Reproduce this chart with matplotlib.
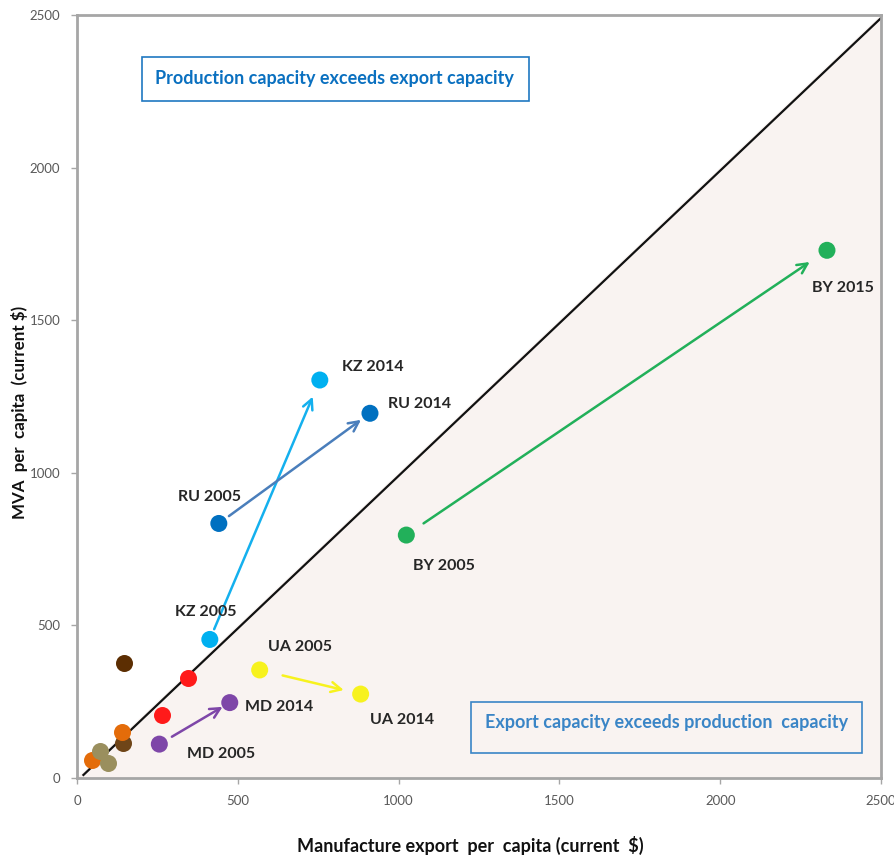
import matplotlib
matplotlib.use("Agg")
import matplotlib.pyplot as plt
from matplotlib.patches import Rectangle

plt.rcParams['font.family'] = ['Lato', 'DejaVu Sans']

# Labelled country points (2005 -> 2014/2015)
countries = ["KZ", "RU", "BY", "UA", "MD"]
start_year = ["2005", "2005", "2005", "2005", "2005"]
end_year = ["2014", "2014", "2015", "2014", "2014"]
x_start = [413, 441, 1024, 568, 256]
y_start = [454, 834, 796, 354, 111]
x_end = [755, 911, 2332, 882, 475]
y_end = [1304, 1195, 1729, 275, 247]
point_colors = ["#00b0f0", "#0070c0", "#22b05a", "#f7f21e", "#7e46a8"]
arrow_colors = ["#14b0ee", "#4a7ebb", "#22b05a", "#f7f21e", "#7e46a8"]

# Unlabelled points
other_x = [146, 344, 263, 142, 139, 46, 71, 97]
other_y = [376, 329, 206, 114, 152, 59, 89, 50]
other_colors = ["#5c2e02", "#ff1a1a", "#ff1a1a", "#6f4518", "#e46c0a",
                "#e46c0a", "#9a8f5e", "#9a8f5e"]

ticks = [0, 500, 1000, 1500, 2000, 2500]
diag_x = [20, 2500]
diag_y = [10, 2490]

fig = plt.figure(figsize=(8.95, 8.56), dpi=100)
ax = fig.add_axes([77/895, 1-778/856, 804/895, 763/856])
ax.set_xlim(0, 2500)
ax.set_ylim(0, 2500)

# shaded region below diagonal
ax.fill([0, 2500, 2500], [0, 0, 2500], color="#f9f3f1", zorder=0, lw=0)
ax.plot(diag_x, diag_y, color="#111111", lw=1.6, zorder=2)

# text boxes
ax.add_patch(Rectangle((0.081, 0.887), 0.481, 0.058, transform=ax.transAxes,
                       fill=True, facecolor="white", edgecolor="#1f78c1", lw=1.2, zorder=3))
ax.text(0.097, 0.917, "Production capacity exceeds export capacity", transform=ax.transAxes,
        color="#0a70c0", fontsize=13, fontweight="bold", va="center", ha="left", zorder=4)
ax.add_patch(Rectangle((0.490, 0.033), 0.486, 0.067, transform=ax.transAxes,
                       fill=False, edgecolor="#3a85c6", lw=1.2, zorder=3))
ax.text(0.507, 0.073, "Export capacity exceeds production  capacity", transform=ax.transAxes,
        color="#3a85c6", fontsize=13, fontweight="bold", va="center", ha="left", zorder=4)

# other points
for xx, yy, cc in zip(other_x, other_y, other_colors):
    ax.scatter(xx, yy, s=150, color=cc, zorder=5, lw=0)

# arrows
shrinks = [(8, 13), (9, 8), (15, 15), (17, 12.5), (10.5, 6)]
for i in range(len(countries)):
    ax.annotate("", xy=(x_end[i], y_end[i]), xytext=(x_start[i], y_start[i]),
                arrowprops=dict(arrowstyle="->", color=arrow_colors[i], lw=1.8,
                                mutation_scale=18, shrinkA=shrinks[i][0], shrinkB=shrinks[i][1]),
                zorder=4)

ax.scatter(x_start, y_start, s=150, color=point_colors, zorder=5, lw=0)
ax.scatter(x_end, y_end, s=150, color=point_colors, zorder=5, lw=0)

# labels (offsets in points)
start_off = [(-25, 19.4), (-29.5, 18.7), (5, -22.5), (5.8, 16.6), (20, -7)]
end_off = [(16, 9.4), (13, 6.7), (-11, -27), (7, -19), (11, -3)]
lab_kw = dict(fontsize=11.5, fontweight="bold", color="#262626", va="center", ha="left",
              textcoords="offset points", zorder=6)
for i, c in enumerate(countries):
    ax.annotate(f"{c} {start_year[i]}", (x_start[i], y_start[i]), xytext=start_off[i], **lab_kw)
    ax.annotate(f"{c} {end_year[i]}", (x_end[i], y_end[i]), xytext=end_off[i], **lab_kw)

ax.set_xticks(ticks)
ax.set_yticks(ticks)
ax.tick_params(axis="both", direction="out", length=4, width=1, color="#a6a6a6",
               labelsize=9.5, labelcolor="#595959", pad=8)
for s in ax.spines.values():
    s.set_color("#a6a6a6")
    s.set_linewidth(2)

fig.text(470/895, 1-845/856, "Manufacture export  per  capita (current  $)",
         fontsize=13, fontweight="bold", color="#111111", ha="center", va="center")
fig.text(20/895, 1-412/856, "MVA  per  capita  (current $)", rotation=90,
         fontsize=12.2, fontweight="bold", color="#111111", ha="center", va="center")

fig.savefig("out.png", dpi=100)
